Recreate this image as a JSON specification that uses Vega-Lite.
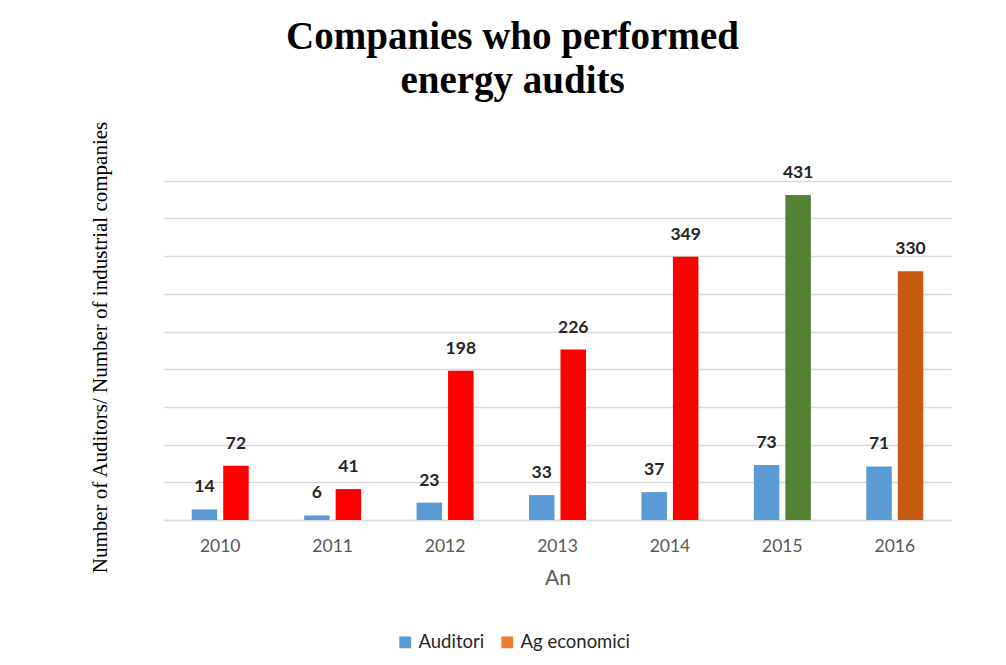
{
  "$schema": "https://vega.github.io/schema/vega-lite/v6.json",
  "width": 787,
  "height": 377,
  "autosize": {"type": "none"},
  "padding": {"left": 164, "top": 143, "right": 55, "bottom": 145},
  "background": "white",
  "title": {
    "text": ["Companies who performed", "energy audits"],
    "font": "Liberation Serif",
    "fontSize": 39,
    "fontWeight": "bold",
    "color": "#000000",
    "lineHeight": 44,
    "anchor": "middle",
    "dx": -45,
    "offset": 20
  },
  "data": {
    "values": [
      {"year": "2010", "series": "Auditori", "cat": "Auditori", "value": 14},
      {"year": "2010", "series": "Ag economici", "cat": "r", "value": 72},
      {"year": "2011", "series": "Auditori", "cat": "Auditori", "value": 6},
      {"year": "2011", "series": "Ag economici", "cat": "r", "value": 41},
      {"year": "2012", "series": "Auditori", "cat": "Auditori", "value": 23},
      {"year": "2012", "series": "Ag economici", "cat": "r", "value": 198},
      {"year": "2013", "series": "Auditori", "cat": "Auditori", "value": 33},
      {"year": "2013", "series": "Ag economici", "cat": "r", "value": 226},
      {"year": "2014", "series": "Auditori", "cat": "Auditori", "value": 37},
      {"year": "2014", "series": "Ag economici", "cat": "r", "value": 349},
      {"year": "2015", "series": "Auditori", "cat": "Auditori", "value": 73},
      {"year": "2015", "series": "Ag economici", "cat": "g", "value": 431},
      {"year": "2016", "series": "Auditori", "cat": "Auditori", "value": 71},
      {"year": "2016", "series": "Ag economici", "cat": "o", "value": 330}
    ]
  },
  "encoding": {
    "x": {
      "field": "year",
      "type": "nominal",
      "scale": {"paddingInner": 0.493, "paddingOuter": 0.2465},
      "axis": {
        "title": "An",
        "labelAngle": 0,
        "labelFont": "Lato",
        "labelFontSize": 17.5,
        "labelColor": "#595959",
        "labelPadding": 17,
        "ticks": false,
        "domain": true,
        "domainColor": "#D9D9D9",
        "domainWidth": 1.5,
        "titleFont": "Lato",
        "titleFontSize": 21,
        "titleFontWeight": "normal",
        "titleColor": "#595959",
        "titlePadding": 13
      }
    },
    "xOffset": {
      "field": "series",
      "type": "nominal",
      "sort": ["Auditori", "Ag economici"],
      "scale": {"paddingInner": 0.19, "paddingOuter": 0}
    },
    "y": {
      "field": "value",
      "type": "quantitative",
      "scale": {"domain": [0, 500], "nice": false},
      "axis": {
        "title": "Number of Auditors/ Number of industrial companies",
        "values": [0, 50, 100, 150, 200, 250, 300, 350, 400, 450],
        "labels": false,
        "ticks": false,
        "domain": false,
        "grid": true,
        "gridColor": "#D9D9D9",
        "gridWidth": 1.5,
        "titleFont": "Liberation Serif",
        "titleFontSize": 21,
        "titleFontWeight": "normal",
        "titleColor": "#000000",
        "titlePadding": 54,
        "titleY": 204
      }
    }
  },
  "layer": [
    {
      "mark": {"type": "bar"},
      "encoding": {
        "color": {
          "field": "cat",
          "type": "nominal",
          "scale": {
            "domain": ["Auditori", "Ag economici", "r", "g", "o"],
            "range": ["#5B9BD5", "#ED7D31", "#FF0000", "#548235", "#C55A11"]
          },
          "legend": {
            "title": null,
            "values": ["Auditori", "Ag economici"],
            "orient": "none",
            "direction": "horizontal",
            "legendX": 232,
            "legendY": 490,
            "symbolType": "square",
            "symbolSize": 140,
            "symbolStrokeWidth": 0,
            "labelFont": "Lato",
            "labelFontSize": 18.5,
            "labelColor": "#262626",
            "labelOffset": 4,
            "columnPadding": 13
          }
        }
      }
    },
    {
      "mark": {
        "type": "text",
        "baseline": "middle",
        "dy": -22,
        "font": "Lato",
        "fontSize": 17.5,
        "fontWeight": "bold",
        "color": "#262626"
      },
      "encoding": {
        "text": {"field": "value", "type": "quantitative"}
      }
    }
  ],
  "config": {
    "view": {"stroke": null}
  }
}
